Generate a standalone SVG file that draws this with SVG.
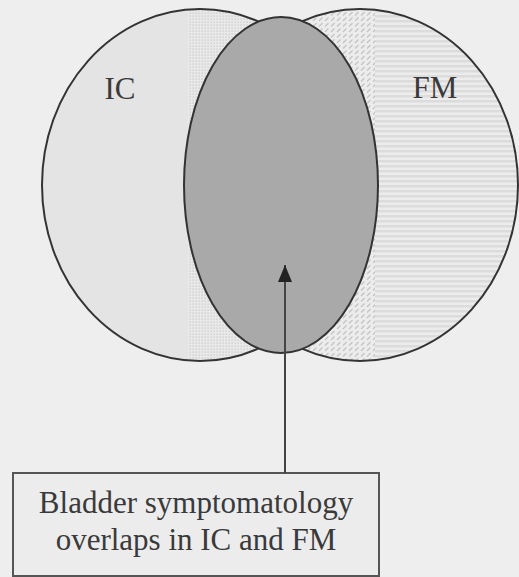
<svg xmlns="http://www.w3.org/2000/svg" width="519" height="577" viewBox="0 0 519 577">
  <style>
    .outline { stroke: #333; stroke-width: 2; }
    .lbl { font-family: "Liberation Serif", "Times New Roman", serif; font-size: 31px; fill: #3a3a3a; text-anchor: middle; }
    .conn { stroke: #444; stroke-width: 2; fill: none; }
  </style>
  <defs>
    <pattern id="dots" width="3" height="3" patternUnits="userSpaceOnUse">
      <rect width="3" height="3" fill="#e9e9e9"/>
      <rect x="0.5" y="0.5" width="1.2" height="1.2" fill="#c6c6c6"/>
    </pattern>
    <pattern id="hatch" width="6" height="5.5" patternUnits="userSpaceOnUse">
      <rect width="6" height="5.5" fill="#ececec"/>
      <line x1="1" y1="4.5" x2="4.5" y2="1" stroke="#b8b8b8" stroke-width="1.1"/>
    </pattern>
    <pattern id="stripes" width="6" height="5" patternUnits="userSpaceOnUse">
      <rect width="6" height="5" fill="#ececec"/>
      <rect width="6" height="2.5" fill="#dcdcdc"/>
    </pattern>
    <clipPath id="clipIC"><ellipse cx="200" cy="185" rx="158" ry="176"/></clipPath>
    <clipPath id="clipFM"><ellipse cx="360" cy="185" rx="158" ry="176"/></clipPath>
    <marker id="arrow" markerWidth="18" markerHeight="14" refX="17" refY="7" orient="auto" markerUnits="userSpaceOnUse" viewBox="0 0 18 14">
      <polygon points="17,7 0,0 0,14" fill="#222"/>
    </marker>
  </defs>

  <rect width="519" height="577" fill="#eeeeee"/>

  <g id="node-ic">
    <ellipse cx="200" cy="185" rx="158" ry="176" fill="#e4e4e4"/>
    <rect x="188" y="0" width="200" height="370" fill="url(#dots)" clip-path="url(#clipIC)"/>
    <ellipse cx="200" cy="185" rx="158" ry="176" fill="none" class="outline"/>
    <text class="lbl" x="120" y="99">IC</text>
  </g>

  <g id="node-fm">
    <ellipse cx="360" cy="185" rx="158" ry="176" fill="url(#stripes)"/>
    <rect x="180" y="0" width="195" height="370" fill="url(#hatch)" clip-path="url(#clipFM)"/>
    <ellipse cx="360" cy="185" rx="158" ry="176" fill="none" class="outline"/>
    <text class="lbl" x="435" y="98">FM</text>
  </g>

  <g id="node-overlap">
    <ellipse cx="281" cy="185" rx="97" ry="168" fill="#a9a9a9" class="outline"/>
  </g>

  <g id="node-label">
    <rect x="13" y="473" width="366" height="103" fill="#ececec" stroke="#555" stroke-width="2"/>
    <text class="lbl" x="196" y="513">Bladder symptomatology</text>
    <text class="lbl" x="196" y="550">overlaps in IC and FM</text>
  </g>

  <g id="connectors">
    <line class="conn" x1="285" y1="473" x2="285" y2="265" marker-end="url(#arrow)"/>
  </g>
</svg>
